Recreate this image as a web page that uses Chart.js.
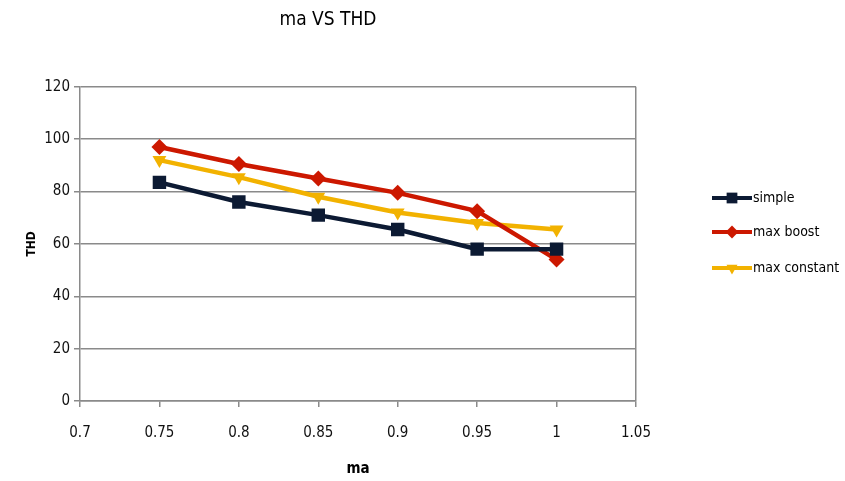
<!DOCTYPE html>
<html>
  <head>
    <meta charset="UTF-8">
    <title>ma VS THD</title>
    <script src="https://cdn.jsdelivr.net/npm/chart.js"></script>
    <style>
      html, body { margin: 0; padding: 0; background: #fff; }
      #wrap { width: 845px; height: 481px; }
    </style>
  </head>
  <body>
    <div id="wrap"><canvas id="thdChart" width="845" height="481"></canvas></div>
    <script>
      // modulation index values on the x axis
      const maValues = [0.75, 0.8, 0.85, 0.9, 0.95, 1];

      // THD for each control method
      const simpleThd = [83.5, 76, 71, 65.5, 58, 58];
      const maxBoostThd = [97, 90.5, 85, 79.5, 72.5, 54];
      const maxConstantThd = [92, 85.5, 78, 72, 68, 65.5];

      const seriesNames = ['simple', 'max boost', 'max constant'];

      const FONT = "'DejaVu Sans Condensed', 'Liberation Sans Narrow', 'Liberation Sans', sans-serif";

      function toPoints(ys) {
        return maValues.map((x, i) => ({ x: x, y: ys[i] }));
      }

      const datasets = [
        {
          label: seriesNames[0],
          data: toPoints(simpleThd),
          borderColor: '#0c1a33',
          backgroundColor: '#0c1a33',
          pointStyle: 'rect',
          pointRadius: 9.5,
          pointRotation: 0
        },
        {
          label: seriesNames[1],
          data: toPoints(maxBoostThd),
          borderColor: '#cc1800',
          backgroundColor: '#cc1800',
          pointStyle: 'rectRot',
          pointRadius: 8,
          pointRotation: 0
        },
        {
          label: seriesNames[2],
          data: toPoints(maxConstantThd),
          borderColor: '#f2b200',
          backgroundColor: '#f2b200',
          pointStyle: 'triangle',
          pointRadius: 8,
          pointRotation: 180
        }
      ].map(d => Object.assign(d, { borderWidth: 4.5, tension: 0, pointBorderWidth: 0 }));

      // legend on the right: short line with the series marker in the middle
      const sideLegend = {
        id: 'sideLegend',
        afterDraw(chart) {
          const ctx = chart.ctx;
          const rows = [198, 232, 268];
          chart.data.datasets.forEach((ds, i) => {
            const y = rows[i];
            ctx.save();
            ctx.strokeStyle = ds.borderColor;
            ctx.lineWidth = 4;
            ctx.beginPath();
            ctx.moveTo(712, y);
            ctx.lineTo(752, y);
            ctx.stroke();
            ctx.fillStyle = ds.backgroundColor;
            Chart.helpers.drawPoint(ctx, {
              pointStyle: ds.pointStyle,
              radius: ds.pointRadius * 0.8,
              rotation: ds.pointRotation,
              borderWidth: 0
            }, 732, y);
            ctx.fillStyle = '#000';
            ctx.font = '14px ' + FONT;
            ctx.textBaseline = 'middle';
            ctx.fillText(ds.label, 753, y);
            ctx.restore();
          });
        }
      };

      new Chart(document.getElementById('thdChart').getContext('2d'), {
        type: 'line',
        data: { datasets: datasets },
        plugins: [sideLegend],
        options: {
          responsive: false,
          animation: false,
          layout: { padding: { left: 20, right: 209, top: 0, bottom: 0 } },
          plugins: {
            legend: { display: false },
            tooltip: { enabled: false },
            title: {
              display: true,
              text: 'ma VS THD',
              color: '#000',
              font: { family: FONT, size: 19, weight: 'normal' },
              padding: { top: 9, bottom: 55 }
            }
          },
          scales: {
            x: {
              type: 'linear',
              min: 0.7,
              max: 1.05,
              ticks: {
                stepSize: 0.05,
                color: '#111',
                font: { family: FONT, size: 15 },
                padding: 17,
                callback: v => String(parseFloat(v.toFixed(2)))
              },
              grid: {
                color: ctx => (ctx.tick && Math.abs(ctx.tick.value - 1.05) < 1e-6) ? '#8a8a8a' : 'rgba(0,0,0,0)',
                tickColor: '#8a8a8a',
                tickLength: 6,
                lineWidth: 1.5
              },
              border: { color: '#8a8a8a', width: 1.5 },
              title: {
                display: true,
                text: 'ma',
                color: '#000',
                font: { family: FONT, size: 15, weight: 'bold' },
                padding: { top: 0, bottom: 3 }
              },
              afterFit: s => { s.height = 80; }
            },
            y: {
              min: 0,
              max: 120,
              ticks: {
                stepSize: 20,
                color: '#111',
                font: { family: FONT, size: 15 },
                padding: 4
              },
              grid: {
                color: '#8a8a8a',
                tickColor: '#8a8a8a',
                tickLength: 6,
                lineWidth: 1.5
              },
              border: { color: '#8a8a8a', width: 1.5 },
              title: {
                display: true,
                text: 'THD',
                color: '#000',
                font: { family: FONT, size: 12, weight: 'bold' },
                padding: { top: 5, bottom: 0 }
              },
              afterFit: s => { s.width = 60; }
            }
          }
        }
      });
    </script>
  </body>
</html>
